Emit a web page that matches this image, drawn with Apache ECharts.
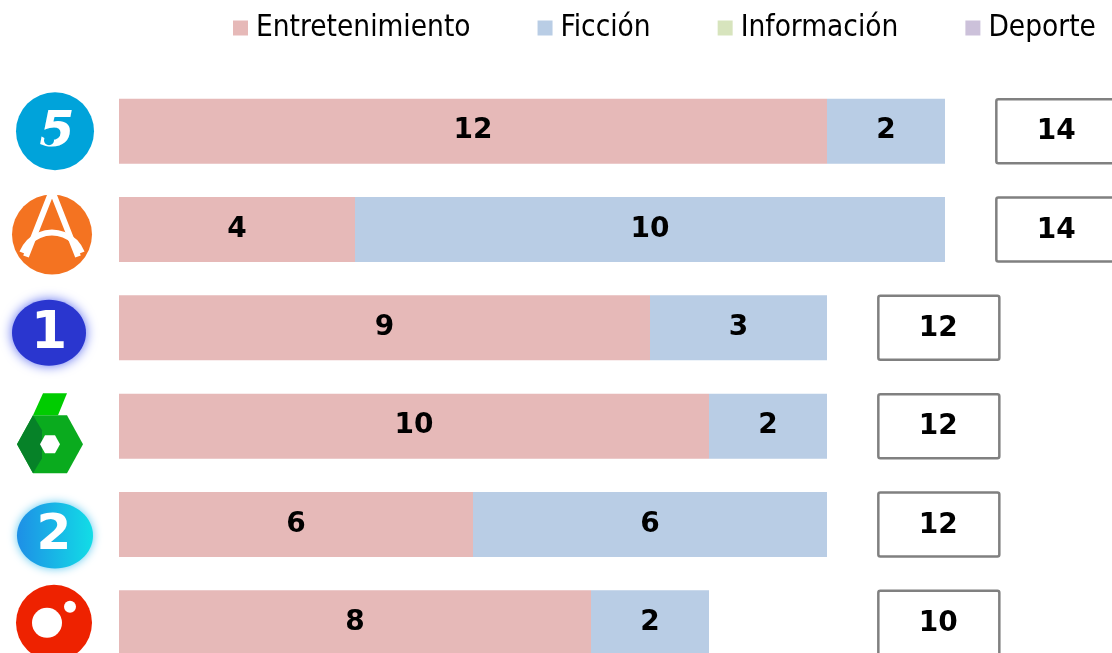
<!DOCTYPE html>
<html>
<head>
<meta charset="utf-8">
<script src="https://cdn.jsdelivr.net/npm/echarts@6/dist/echarts.min.js"></script>
<style>
  html, body { margin: 0; padding: 0; background: #fff; }
  #main { width: 1112px; height: 653px; }
</style>
</head>
<body>
<div id="main"></div>
<script>
// cadenas, de arriba abajo
const channels = ['Telecinco', 'Antena 3', 'La 1', 'La Sexta', 'La 2', 'Cuatro'];
const entretenimiento = [12, 4, 9, 10, 6, 8];
const ficcion = [2, 10, 3, 2, 6, 2];
const informacion = [0, 0, 0, 0, 0, 0];
const deporte = [0, 0, 0, 0, 0, 0];
const totals = [14, 14, 12, 12, 12, 10];

const labelFont = {
  color: '#000',
  fontFamily: 'DejaVu Sans, Verdana, sans-serif',
  fontWeight: 'bold',
  fontSize: 28
};

function barSeries(name, data, color) {
  return {
    name: name,
    type: 'bar',
    stack: 'total',
    data: data,
    barWidth: 65,
    itemStyle: { color: color },
    label: Object.assign({
      show: true,
      position: 'inside',
      formatter: function (p) { return p.value ? p.value : ''; }
    }, labelFont)
  };
}

// logos dibujados a mano, relativos al centro de la fila
function drawLogo(idx, cx, cy) {
  const white = '#fff';
  if (idx === 0) {
    return [
      { type: 'circle', shape: { cx: cx, cy: cy, r: 39 }, style: { fill: '#00a3da' } },
      { type: 'text', style: { x: cx + 2, y: cy + 2, text: '5', fill: white, fontSize: 50, fontWeight: 900,
        fontStyle: 'italic', fontFamily: 'DejaVu Sans', align: 'center', verticalAlign: 'middle' } },
      { type: 'circle', shape: { cx: cx - 6, cy: cy + 9, r: 5 }, style: { fill: '#00a3da' } }
    ];
  }
  if (idx === 1) {
    const y = cy + 5, x = cx - 3;
    return [
      { type: 'circle', shape: { cx: x, cy: y, r: 40 }, style: { fill: '#f47321' } },
      { type: 'polyline', shape: { points: [[x - 26, y + 22], [x, y - 44], [x + 26, y + 22]] },
        style: { stroke: white, lineWidth: 6, fill: null } },
      { type: 'arc', shape: { cx: x, cy: y + 30, r: 32, startAngle: Math.PI * 1.12, endAngle: Math.PI * 1.88 },
        style: { stroke: white, lineWidth: 6, fill: null } }
    ];
  }
  if (idx === 2) {
    return [
      { type: 'ellipse', shape: { cx: cx - 6, cy: cy + 5, rx: 37, ry: 33 },
        style: { fill: '#2a36cf', shadowBlur: 12, shadowColor: '#5b6cf0' } },
      { type: 'text', style: { x: cx - 6, y: cy + 7, text: '1', fill: white, fontSize: 52, fontWeight: 'bold',
        fontFamily: 'DejaVu Sans', align: 'center', verticalAlign: 'middle' } }
    ];
  }
  if (idx === 3) {
    const hy = cy + 18, x0 = cx - 5;
    return [
      { type: 'polygon', shape: { points: [[x0 - 33, hy], [x0 - 17, hy - 29], [x0 + 17, hy - 29], [x0 + 33, hy], [x0 + 17, hy + 29], [x0 - 17, hy + 29]] },
        style: { fill: '#0aab1e' } },
      { type: 'polygon', shape: { points: [[x0 - 33, hy], [x0 - 17, hy - 29], [x0 - 8, hy - 14], [x0 - 8, hy + 14], [x0 - 17, hy + 29]] },
        style: { fill: '#068228' } },
      { type: 'polygon', shape: { points: [[x0 - 7, cy - 33], [x0 + 17, cy - 33], [x0 + 8, cy - 11], [x0 - 17, cy - 11]] },
        style: { fill: '#00cc00' } },
      { type: 'polygon', shape: { points: [[x0 - 10, hy], [x0 - 5, hy - 9], [x0 + 5, hy - 9], [x0 + 10, hy], [x0 + 5, hy + 9], [x0 - 5, hy + 9]] },
        style: { fill: white } }
    ];
  }
  if (idx === 4) {
    return [
      { type: 'ellipse', shape: { cx: cx, cy: cy + 11, rx: 38, ry: 33 },
        style: { fill: new echarts.graphic.LinearGradient(0, 0, 1, 0, [{ offset: 0, color: '#1e8fe6' }, { offset: 1, color: '#12dde6' }]),
          shadowBlur: 10, shadowColor: '#5cc8f0' } },
      { type: 'text', style: { x: cx - 1, y: cy + 12, text: '2', fill: white, fontSize: 50, fontWeight: 'bold',
        fontFamily: 'DejaVu Sans', align: 'center', verticalAlign: 'middle' } }
    ];
  }
  return [
    { type: 'circle', shape: { cx: cx - 1, cy: cy, r: 38 }, style: { fill: '#ee2200' } },
    { type: 'circle', shape: { cx: cx - 8, cy: cy, r: 15 }, style: { fill: white } },
    { type: 'circle', shape: { cx: cx + 15, cy: cy - 16, r: 6 }, style: { fill: white } }
  ];
}

const chart = echarts.init(document.getElementById('main'));

const option = {
  animation: false,
  backgroundColor: '#fff',
  legend: {
    data: ['Entretenimiento', 'Ficción', 'Información', 'Deporte'],
    left: 228,
    top: 8,
    icon: 'rect',
    itemWidth: 15,
    itemHeight: 15,
    itemGap: 67,
    textStyle: {
      fontFamily: 'DejaVu Sans Condensed, DejaVu Sans, sans-serif',
      fontSize: 29.5,
      color: '#000',
      padding: [0, 0, 0, 3]
    }
  },
  grid: { left: 119, top: 82, width: 59 * 17, height: 590, outerBoundsMode: 'none' },
  xAxis: { type: 'value', min: 0, max: 17, show: false },
  yAxis: {
    type: 'category',
    data: channels,
    inverse: true,
    axisLine: { show: false },
    axisTick: { show: false },
    axisLabel: { show: false },
    splitLine: { show: false }
  },
  series: [
    barSeries('Entretenimiento', entretenimiento, '#e6b9b8'),
    barSeries('Ficción', ficcion, '#b9cde5'),
    barSeries('Información', informacion, '#d7e4bd'),
    barSeries('Deporte', deporte, '#ccc1da'),
    {
      type: 'custom',
      name: 'logos',
      clip: false,
      silent: true,
      data: channels.map(function (c, i) { return [0, i]; }),
      encode: { x: 0, y: 1 },
      renderItem: function (params, api) {
        const p = api.coord([0, api.value(1)]);
        return { type: 'group', children: drawLogo(params.dataIndex, p[0] - 64, p[1]) };
      }
    },
    {
      type: 'custom',
      name: 'totales',
      clip: false,
      silent: true,
      data: totals.map(function (t, i) { return [Math.max(t, 12) + 0.87, i, t]; }),
      encode: { x: 0, y: 1 },
      renderItem: function (params, api) {
        const p = api.coord([api.value(0), api.value(1)]);
        return {
          type: 'group',
          children: [
            { type: 'rect', shape: { x: p[0], y: p[1] - 32, width: 121, height: 64, r: 2 },
              style: { fill: '#fff', stroke: '#808080', lineWidth: 2.5 } },
            { type: 'text', style: { x: p[0] + 60, y: p[1] + 1, text: String(api.value(2)),
              fill: '#000', align: 'center', verticalAlign: 'middle',
              fontFamily: labelFont.fontFamily, fontWeight: 'bold', fontSize: 28 } }
          ]
        };
      }
    }
  ]
};

option && chart.setOption(option);
</script>
</body>
</html>
